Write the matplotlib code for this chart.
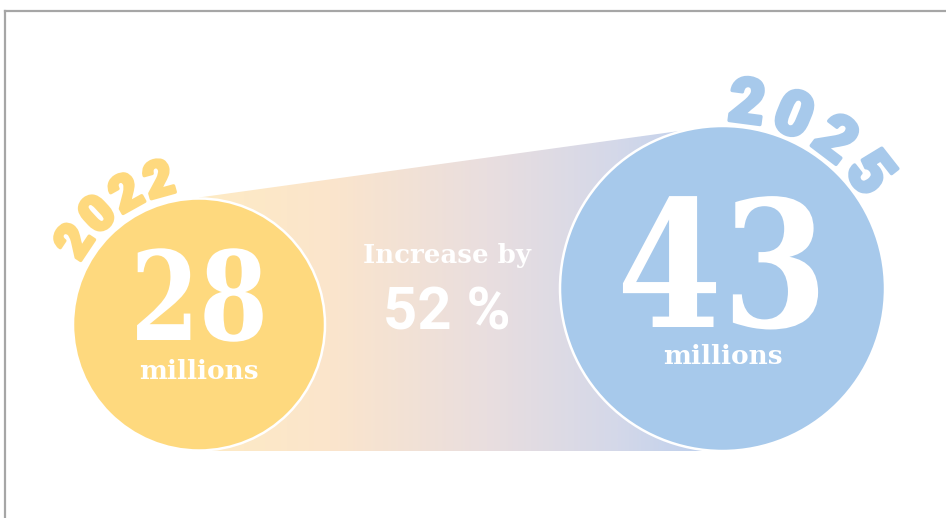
import numpy as np
import matplotlib
matplotlib.use("Agg")
import matplotlib.pyplot as plt
from matplotlib.patches import Circle, Polygon
from matplotlib.colors import LinearSegmentedColormap
from matplotlib.lines import Line2D
from matplotlib.transforms import Affine2D
import matplotlib.patheffects as pe

# ---- data ----
years = ["2022", "2025"]
values = [28, 43]
unit_label = "millions"
increase_label = "Increase by"
increase_pct = 52

# ---- style / layout ----
W, H = 946, 518
yellow = "#FED97E"
blue = "#A7C9EB"
circ = [  # (cx, cy, r)
    (199, 324.5, 126),
    (722.5, 288.5, 162.5),
]
num_size = [89, 127]          # pt
num_sx = [0.8, 0.86]          # horizontal condensing of the big numbers
num_base = [340, 327]
unit_y = [379, 364]
year_size = [36, 45]
year_baseline_r = [134, 167.5]
year_mid_angle = [-35.9, 29.7]
year_step = [13.6, 14.8]
colors = [yellow, blue]


class Condense(pe.AbstractPathEffect):
    """Squeeze the glyphs horizontally about the text's centre."""
    def __init__(self, sx):
        super().__init__()
        self.sx = sx

    def draw_path(self, renderer, gc, tpath, affine, rgbFace=None):
        ext = tpath.get_extents()
        c = (ext.x0 + ext.x1) / 2
        t = Affine2D().translate(-c, 0).scale(self.sx, 1).translate(c, 0) + affine
        renderer.draw_path(gc, tpath, t, rgbFace)


fig = plt.figure(figsize=(W / 100, H / 100), dpi=100)
ax = fig.add_axes([0, 0, 1, 1])
ax.set_xlim(0, W)
ax.set_ylim(H, 0)
ax.set_aspect("equal")
ax.axis("off")

# frame lines (top and left)
ax.add_line(Line2D([4.5, W], [10.5, 10.5], color="#a6a6a6", lw=1.6, zorder=1))
ax.add_line(Line2D([4.5, 4.5], [10.5, H], color="#a6a6a6", lw=1.6, zorder=1))

# gradient connector
(x0, y0, r0), (x1, y1, r1) = circ
poly = Polygon([(x0, y0 - r0 - 1), (x1, y1 - r1 - 1), (x1, 451), (x0, 451)],
               closed=True, facecolor="none", edgecolor="none")
ax.add_patch(poly)
cmap = LinearSegmentedColormap.from_list(
    "g", [(0, "#FEEBC4"), (0.25, "#FBE5CC"), (0.55, "#E9DEDF"), (0.8, "#D4D8E9"), (1, "#BACFEE")])
grad = np.linspace(0, 1, 512).reshape(1, -1)
im = ax.imshow(grad, cmap=cmap, extent=[x0, x1, 451, y1 - r1 - 1],
               aspect="auto", zorder=2, interpolation="bilinear")
im.set_clip_path(poly)

serif = ["DejaVu Serif"]
for i in range(2):
    cx, cy, r = circ[i]
    ax.add_patch(Circle((cx, cy), r, facecolor=colors[i], edgecolor="white",
                        lw=1.8, zorder=3))
    ax.text(cx, num_base[i], str(values[i]), family=serif, fontweight="bold",
            fontsize=num_size[i], color="white", ha="center", va="baseline", zorder=4,
            path_effects=[Condense(num_sx[i])])
    ax.text(cx, unit_y[i], unit_label, family=serif, fontweight="bold",
            fontsize=19, color="white", ha="center", va="baseline", zorder=4)
    # curved year
    s = years[i]
    n = len(s)
    for k, ch in enumerate(s):
        th = year_mid_angle[i] + (k - (n - 1) / 2) * year_step[i]
        t = np.deg2rad(th)
        R = year_baseline_r[i]
        px = cx + R * np.sin(t)
        py = cy - R * np.cos(t)
        ax.text(px, py, ch, family=["Roboto", "DejaVu Sans"], fontweight="black",
                fontsize=year_size[i], color=colors[i], ha="center", va="baseline",
                rotation=-th, rotation_mode="anchor", zorder=4,
                path_effects=[pe.withStroke(linewidth=2.5, foreground=colors[i])])

ax.text(447, 263, increase_label, family=serif, fontweight="bold", fontsize=18.7,
        color="white", ha="center", va="baseline", zorder=4)
ax.text(447, 330, f"{increase_pct} %", family=["Roboto", "DejaVu Sans"], fontweight="bold",
        fontsize=43, color="white", ha="center", va="baseline", zorder=4)

fig.savefig("out.png", dpi=100, facecolor="white")
